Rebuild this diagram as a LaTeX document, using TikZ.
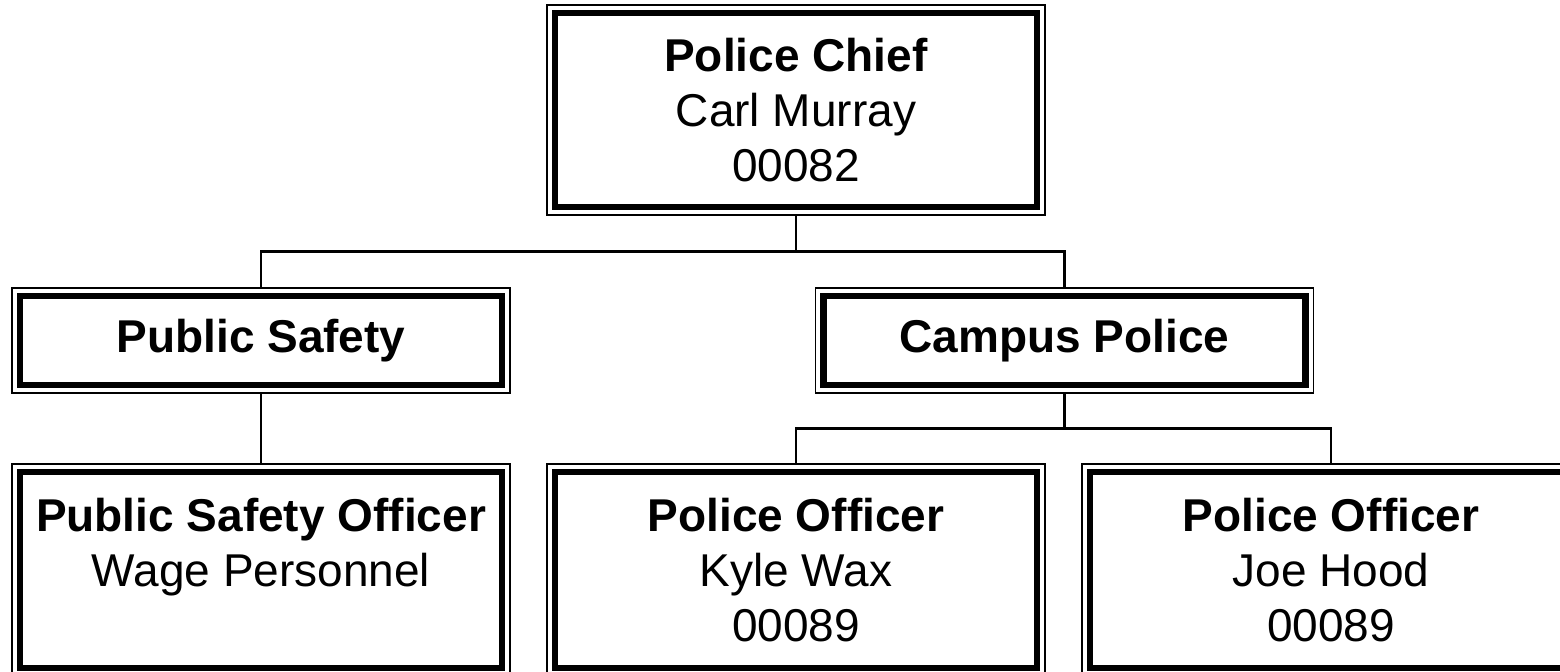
\documentclass[tikz,border=0pt]{standalone}
\usepackage{fontspec}
\setmainfont{Liberation Sans}
\usetikzlibrary{calc}
\tikzset{
  unit/.style={draw, line width=3.25pt, outer sep=4pt, inner sep=0pt, align=center,
    minimum width=241pt, font=\fontsize{23pt}{27.5pt}\selectfont},
  bigunit/.style={unit, minimum height=98pt},
  smallunit/.style={unit, minimum height=44.5pt},
  frame/.style={line width=0.75pt},
  link/.style={line width=1.25pt}
}
\begin{document}
\begin{tikzpicture}[x=0.5pt,y=-0.5pt]
\useasboundingbox (0,0) rectangle (1560,672);
\node[bigunit, minimum height=97pt] (chief) at (796,110) {\textbf{Police Chief}\\Carl Murray\\00082};
\node[smallunit] (safety) at (261,340.5) {\textbf{Public Safety}};
\node[smallunit] (campus) at (1064.5,340.5) {\textbf{Campus Police}};
\node[bigunit] (psofficer) at (261,570) {\textbf{Public Safety Officer}\\Wage Personnel\\\mbox{}};
\node[bigunit] (kyle) at (796,570) {\textbf{Police Officer}\\Kyle Wax\\00089};
\node[bigunit] (joe) at (1331,570) {\textbf{Police Officer}\\Joe Hood\\00089};
\foreach \n in {chief,safety,campus,psofficer,kyle,joe}
  \draw[frame] (\n.north west) rectangle (\n.south east);
\coordinate (j1) at ($(chief.south)!.5!(chief.south |- safety.north)$);
\coordinate (j2) at ($(campus.south)!.5!(campus.south |- kyle.north)$);
\draw[link] (chief.south) -- (j1);
\draw[link] (safety.north) |- (j1) -| (campus.north);
\draw[link] (safety.south) -- (psofficer.north);
\draw[link] (campus.south) -- (j2);
\draw[link] (kyle.north) |- (j2) -| (joe.north);
\end{tikzpicture}
\end{document}
